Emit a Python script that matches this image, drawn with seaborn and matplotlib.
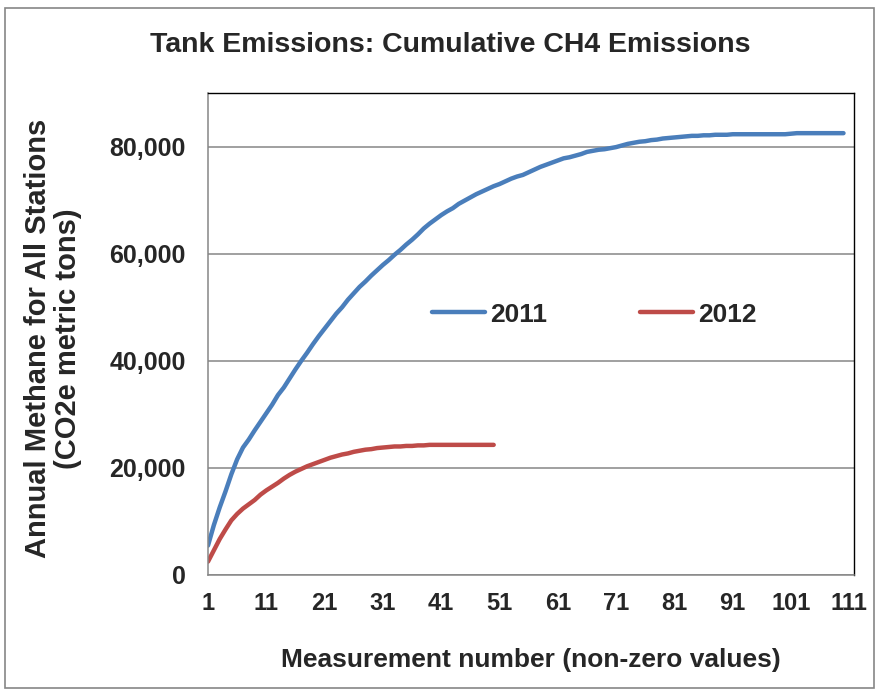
import matplotlib
matplotlib.use('Agg')
import matplotlib.pyplot as plt
from matplotlib.patches import Rectangle
from matplotlib.ticker import FixedLocator, StrMethodFormatter
import numpy as np
import pandas as pd
import seaborn as sns

# values (CO2e metric tons, cumulative)
emis_2011 = [
    5500, 9300, 12600, 15600, 18800, 21600, 23800, 25300, 27000, 28600,
    30200, 31800, 33600, 35000, 36700, 38400, 40000, 41500, 43100, 44600,
    46000, 47400, 48800, 50000, 51400, 52600, 53800, 54800, 55900, 56900,
    57900, 58800, 59800, 60700, 61700, 62600, 63600, 64700, 65600, 66400,
    67200, 67900, 68500, 69300, 69900, 70500, 71100, 71600, 72100, 72600,
    73000, 73500, 74000, 74400, 74700, 75200, 75700, 76200, 76600, 77000,
    77400, 77800, 78000, 78300, 78600, 79000, 79200, 79400, 79500, 79700,
    79900, 80200, 80500, 80700, 80900, 81000, 81200, 81300, 81500, 81600,
    81700, 81800, 81900, 82000, 82000, 82100, 82100, 82200, 82200, 82200,
    82300, 82300, 82300, 82300, 82300, 82300, 82300, 82300, 82300, 82300,
    82400, 82500, 82500, 82500, 82500, 82500, 82500, 82500, 82500, 82500,
]
emis_2012 = [
    2500, 4600, 6700, 8500, 10200, 11400, 12400, 13200, 14000, 15000,
    15800, 16500, 17200, 18000, 18700, 19300, 19800, 20300, 20700, 21100,
    21500, 21900, 22200, 22500, 22700, 23000, 23200, 23400, 23500, 23700,
    23800, 23900, 24000, 24000, 24100, 24100, 24200, 24200, 24300, 24300,
    24300, 24300, 24300, 24300, 24300, 24300, 24300, 24300, 24300, 24300,
]
years = ['2011', '2012']
colors = ['#4A7EBB', '#BE4B48']
x_labels = list(range(1, 112, 10))

df = pd.concat([
    pd.DataFrame({'n': np.arange(1, len(emis_2011) + 1), 'value': emis_2011, 'year': '2011'}),
    pd.DataFrame({'n': np.arange(1, len(emis_2012) + 1), 'value': emis_2012, 'year': '2012'}),
])

sns.set_style('white')
plt.rcParams['font.family'] = ['Liberation Sans', 'DejaVu Sans']
plt.rcParams['font.weight'] = 'bold'

fig = plt.figure(figsize=(8.79, 6.91), dpi=100)
ax = fig.add_axes([208 / 879, 1 - 575 / 691, 646 / 879, 482 / 691])

sns.lineplot(data=df, x='n', y='value', hue='year', hue_order=years,
             palette=colors, linewidth=3.2, ax=ax, legend=True,
             solid_capstyle='round')

ax.set_xlim(1, 111.8)
ax.set_ylim(0, 90000)
ax.yaxis.set_major_locator(FixedLocator([0, 20000, 40000, 60000, 80000]))
ax.yaxis.set_major_formatter(StrMethodFormatter('{x:,.0f}'))
ax.xaxis.set_major_locator(FixedLocator(x_labels))
ax.xaxis.set_minor_locator(FixedLocator(list(range(6, 112, 10))))
ax.grid(axis='y', color='#868686', linewidth=1.1)
ax.set_axisbelow(True)

for side in ['left', 'bottom']:
    ax.spines[side].set_color('#868686')
    ax.spines[side].set_linewidth(1.1)
for side in ['top', 'right']:
    ax.spines[side].set_visible(True)
    ax.spines[side].set_color('#000000')
    ax.spines[side].set_linewidth(1.0)

ax.tick_params(axis='both', which='both', direction='out', length=6,
               width=1.1, color='#868686', labelsize=18)
ax.tick_params(axis='x', which='major', pad=6, labelsize=17)
ax.tick_params(axis='y', which='major', pad=10)

ax.set_xlabel('Measurement number (non-zero values)', fontsize=19,
              fontweight='bold')
ax.xaxis.set_label_coords(0.5, -0.176)
ax.xaxis.label.set_va('center')
ax.set_ylabel('Annual Methane for All Stations\n(CO2e metric tons)',
              fontsize=21, fontweight='bold', linespacing=1.05)
ax.yaxis.set_label_coords(-0.24, 0.49)
ax.yaxis.label.set_va('center')

leg = ax.legend(loc='center', bbox_to_anchor=(0.598, 0.54), ncol=2,
                frameon=False, handlelength=2.0, columnspacing=3.5,
                handletextpad=0.2, prop={'size': 19, 'weight': 'bold'})
for line in leg.get_lines():
    line.set_linewidth(3.2)
    line.set_solid_capstyle('round')

fig.text(0.512, 1 - 45 / 691, 'Tank Emissions: Cumulative CH4 Emissions',
         ha='center', va='center', fontsize=20.5, fontweight='bold')

fig.patches.append(Rectangle((5 / 879, 1 - 688 / 691), 869 / 879, 680 / 691,
                             transform=fig.transFigure, fill=False,
                             edgecolor='#868686', linewidth=1.2))

fig.savefig('out.png', dpi=100)
